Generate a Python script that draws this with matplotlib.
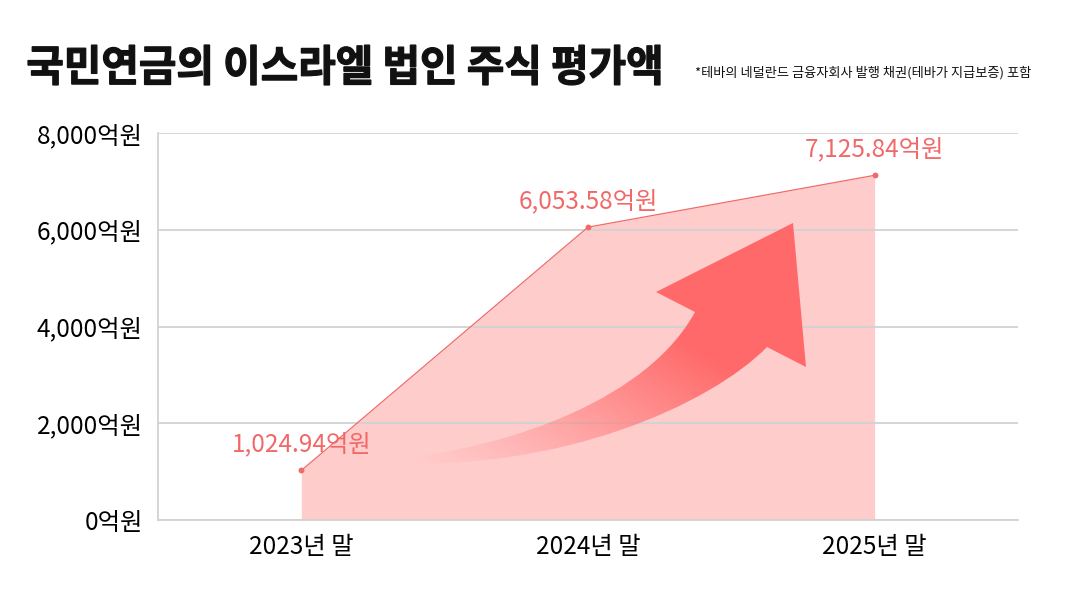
import numpy as np
import matplotlib
matplotlib.use("Agg")
import matplotlib.pyplot as plt
from matplotlib.path import Path
from matplotlib.patches import PathPatch
from matplotlib.textpath import TextPath
from matplotlib.font_manager import FontProperties
from matplotlib.transforms import Affine2D

plt.rcParams['font.family'] = ['Noto Sans CJK KR', 'DejaVu Sans']

# data
periods = ["2023년 말", "2024년 말", "2025년 말"]
values = [1024.94, 6053.58, 7125.84]
yticks = [0, 2000, 4000, 6000, 8000]
title = "국민연금의 이스라엘 법인 주식 평가액"
note = "*테바의 네덜란드 금융자회사 발행 채권(테바가 지급보증) 포함"

RED = "#f06a6a"
LABEL = "#f26868"

fig = plt.figure(figsize=(10.8, 6.0), dpi=100)
ax = fig.add_axes([158 / 1080, 80 / 600, 860 / 1080, 387 / 600])

x = np.arange(len(periods))
ax.fill_between(x, values, 0, color="#ff6b6b", alpha=0.34, lw=0, zorder=1)
ax.plot(x, values, color=RED, lw=0.9, zorder=4)
ax.scatter(x, values, s=18, color=RED, zorder=5, lw=0)
for xi, v in zip(x, values):
    ax.annotate(f"{v:,.2f}억원", (xi, v), xytext=(0, 19), textcoords="offset points",
                ha="center", va="center", fontsize=17.5, color=LABEL, zorder=6)

# decorative curved arrow (axes fraction, built from pixel layout)
def px(p):
    return ((p[0] - 158) / 860, (520 - p[1]) / 387)

pts = [(385, 461), (520, 447), (650, 395), (695, 312),
       (656, 292), (793, 223), (806, 367), (767, 347),
       (710, 405), (560, 472), (385, 463), (385, 461)]
codes = [Path.MOVETO, Path.CURVE4, Path.CURVE4, Path.CURVE4,
         Path.LINETO, Path.LINETO, Path.LINETO, Path.LINETO,
         Path.CURVE4, Path.CURVE4, Path.CURVE4, Path.CLOSEPOLY]
arrow = Path([px(p) for p in pts], codes)
patch = PathPatch(arrow, transform=ax.transAxes, facecolor="none", edgecolor="none")
ax.add_patch(patch)

gx, gy = np.meshgrid(np.linspace(0, 1, 600), np.linspace(0, 1, 300))
ppx = 158 + gx * 860
ppy = 520 - gy * 387
s = (ppx - 430) + 1.6 * (470 - ppy)
alpha = np.clip((s + 10) / 470, 0, 1) ** 1.2
img = np.zeros(gx.shape + (4,))
img[..., 0] = 1.0
img[..., 1] = 105 / 255
img[..., 2] = 105 / 255
img[..., 3] = alpha
im = ax.imshow(img, extent=[0, 1, 0, 1], transform=ax.transAxes, origin="lower",
               aspect="auto", zorder=3, interpolation="bilinear")
im.set_clip_path(patch)

ax.set_xlim(-0.5, 2.5)
ax.set_ylim(0, 8000)
ax.set_xticks(x)
ax.set_xticklabels(periods, fontsize=17.5)
ax.set_yticks(yticks)
ax.set_yticklabels([f"{t:,}억원" for t in yticks], fontsize=17.5)
ax.tick_params(length=0, pad=10)
ax.tick_params(axis="y", pad=11)
ax.grid(axis="y", color="#d2d2d2", lw=1.3, zorder=2)
ax.set_axisbelow(False)
for sp in ["top", "right"]:
    ax.spines[sp].set_visible(False)
for sp in ["left", "bottom"]:
    ax.spines[sp].set_color("#d2d2d2")
    ax.spines[sp].set_linewidth(1.3)
    ax.spines[sp].set_zorder(2)

# title, condensed to fit the reference box (x 28..660, y 45..85 px)
fp = FontProperties(family="Noto Sans CJK KR", weight="black")
tp = TextPath((0, 0), title, size=100, prop=fp)
ext = tp.get_extents()
tr = (Affine2D().translate(-ext.x0, -ext.y0)
      .scale(632 / ext.width, 40 / ext.height)
      .translate(28, 600 - 85))
fig.add_artist(PathPatch(tp, transform=tr, facecolor="#111111",
                         edgecolor="#111111", lw=0.9))

fig.text(695 / 1080, 1 - 73 / 600, note, fontsize=9.5, ha="left", va="center",
         color="#111111")

fig.savefig("out.png", dpi=100)
